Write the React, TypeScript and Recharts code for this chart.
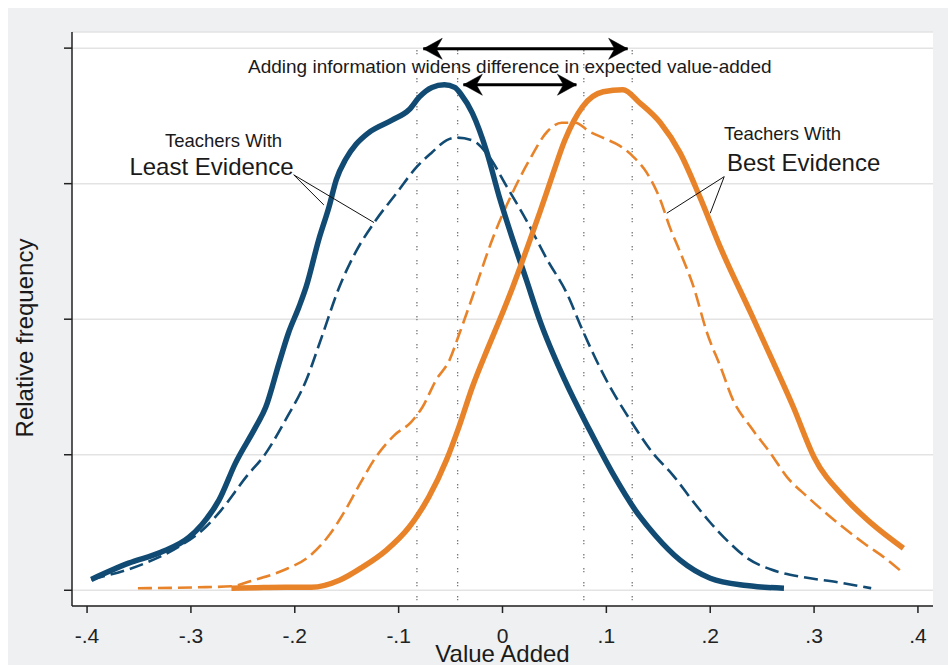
import React from "react";
import {
  LineChart,
  Line,
  XAxis,
  YAxis,
  CartesianGrid,
  ReferenceLine,
  ReferenceDot,
} from "recharts";

const FONT = '"Liberation Sans", Arial, Helvetica, sans-serif';
const BLUE = "#114b73";
const ORANGE = "#e8832a";
const INK = "#1a1a1a";

const xTicks = [-0.4, -0.3, -0.2, -0.1, 0, 0.1, 0.2, 0.3, 0.4];
const yTicks = [0, 1, 2, 3, 4];

// Teachers with least evidence: more information (solid)
const blueSolid: [number, number][] = [
  [-0.396, 0.08], [-0.36, 0.2], [-0.329, 0.28], [-0.302, 0.39], [-0.29, 0.48],
  [-0.273, 0.665], [-0.257, 0.94], [-0.238, 1.2], [-0.228, 1.35], [-0.215, 1.68],
  [-0.206, 1.9], [-0.196, 2.09], [-0.189, 2.24], [-0.177, 2.585], [-0.167, 2.83],
  [-0.16, 3.03], [-0.151, 3.18], [-0.141, 3.29], [-0.129, 3.375], [-0.106, 3.47],
  [-0.09, 3.545], [-0.08, 3.64], [-0.068, 3.71], [-0.056, 3.73], [-0.046, 3.71],
  [-0.04, 3.66], [-0.029, 3.52], [-0.015, 3.23], [-0.003, 2.9], [0.01, 2.585],
  [0.023, 2.29], [0.036, 1.99], [0.06, 1.55], [0.084, 1.18], [0.106, 0.864],
  [0.128, 0.59], [0.147, 0.406], [0.171, 0.222], [0.2, 0.089], [0.235, 0.035],
  [0.271, 0.015],
];

// Teachers with least evidence: less information (dashed)
const blueDashed: [number, number][] = [
  [-0.396, 0.08], [-0.344, 0.2], [-0.312, 0.32], [-0.286, 0.465], [-0.271, 0.59],
  [-0.247, 0.835], [-0.228, 1.01], [-0.209, 1.256], [-0.189, 1.55], [-0.174, 1.87],
  [-0.157, 2.24], [-0.141, 2.5], [-0.122, 2.73], [-0.102, 2.93], [-0.083, 3.12],
  [-0.068, 3.23], [-0.054, 3.32], [-0.044, 3.34], [-0.029, 3.32], [-0.013, 3.2],
  [0.004, 2.98], [0.023, 2.73], [0.043, 2.44], [0.062, 2.19], [0.077, 1.92],
  [0.1, 1.55], [0.123, 1.256], [0.145, 1.01], [0.164, 0.85], [0.184, 0.65],
  [0.2, 0.5], [0.219, 0.347], [0.236, 0.235], [0.258, 0.155], [0.29, 0.096],
  [0.323, 0.059], [0.355, 0.015],
];

// Teachers with best evidence: more information (solid)
const orangeSolid: [number, number][] = [
  [-0.261, 0.015], [-0.209, 0.022], [-0.184, 0.022], [-0.157, 0.074], [-0.135, 0.17],
  [-0.112, 0.295], [-0.09, 0.465], [-0.071, 0.687], [-0.054, 0.96], [-0.042, 1.204],
  [-0.029, 1.5], [-0.015, 1.77], [-0.003, 1.99], [0.01, 2.24], [0.023, 2.51],
  [0.036, 2.79], [0.048, 3.06], [0.06, 3.32], [0.077, 3.567], [0.097, 3.678],
  [0.116, 3.693], [0.132, 3.597], [0.152, 3.449], [0.171, 3.227], [0.19, 2.902],
  [0.21, 2.526], [0.239, 2.046], [0.261, 1.677], [0.28, 1.352], [0.3, 0.982],
  [0.329, 0.687], [0.355, 0.495], [0.386, 0.31],
];

// Teachers with best evidence: less information (dashed)
const orangeDashed: [number, number][] = [
  [-0.351, 0.015], [-0.293, 0.022], [-0.261, 0.03], [-0.24, 0.074], [-0.211, 0.148],
  [-0.186, 0.251], [-0.167, 0.406], [-0.153, 0.569], [-0.138, 0.775], [-0.122, 0.982],
  [-0.104, 1.145], [-0.088, 1.241], [-0.077, 1.352], [-0.064, 1.551], [-0.051, 1.699],
  [-0.042, 1.883], [-0.029, 2.164], [-0.01, 2.585], [0.01, 2.939], [0.026, 3.176],
  [0.043, 3.383], [0.057, 3.449], [0.07, 3.449], [0.084, 3.383], [0.099, 3.331],
  [0.113, 3.279], [0.126, 3.198], [0.139, 3.08], [0.152, 2.88], [0.161, 2.681],
  [0.171, 2.496], [0.184, 2.238], [0.197, 1.898], [0.21, 1.647], [0.222, 1.403],
  [0.239, 1.204], [0.258, 1.012], [0.274, 0.835], [0.294, 0.687], [0.323, 0.495],
  [0.348, 0.347], [0.371, 0.222], [0.386, 0.126],
];

// Means of the four distributions (dotted verticals)
const meanLines = [-0.0824, -0.0432, 0.0783, 0.1249];
const meanSpan = [-0.074, 4.047];

const wideArrow = { from: -0.0763, to: 0.1205, y: 3.995 };
const narrowArrow = { from: -0.0377, to: 0.0712, y: 3.73 };

const annotations = [
  { text: "Adding information widens difference in expected value-added", x: 0.007, y: 3.818, size: 19 },
  { text: "Teachers With", x: -0.2686, y: 3.274, size: 18.5 },
  { text: "Least Evidence", x: -0.2802, y: 3.065, size: 24 },
  { text: "Teachers With", x: 0.2696, y: 3.323, size: 18.5 },
  { text: "Best Evidence", x: 0.2899, y: 3.097, size: 24 },
];

const leaders = [
  { from: [-0.201, 3.065], to: [-0.172, 2.843] },
  { from: [-0.201, 3.065], to: [-0.1237, 2.713] },
  { from: [0.2135, 3.052], to: [0.1582, 2.782] },
  { from: [0.2135, 3.052], to: [0.2, 2.782] },
];

const rows = (pts: [number, number][]) => pts.map(([x, y]) => ({ x, y }));

const fmtX = (v: number) => {
  if (Math.abs(v) < 1e-9) return "0";
  const d = Math.round(Math.abs(v) * 10);
  return (v < 0 ? "-" : "") + "." + d;
};

const arrowHead = (dir: number) => (props: any) => {
  const { cx, cy } = props;
  const L = 19;
  const H = 10.5;
  const N = 13;
  const pts = `${cx},${cy} ${cx + dir * L},${cy - H} ${cx + dir * N},${cy} ${cx + dir * L},${cy + H}`;
  return <polygon points={pts} fill="#000" stroke="#000" strokeWidth={0.5} />;
};

const textShape = (text: string, size: number) => (props: any) => (
  <text
    x={props.cx}
    y={props.cy}
    textAnchor="middle"
    fontSize={size}
    fontFamily={FONT}
    fill={INK}
  >
    {text}
  </text>
);

const YLabel = (props: any) => {
  const vb = props.viewBox || { x: 14, y: 24, width: 50, height: 574 };
  const x = vb.x + 11;
  const y = vb.y + vb.height / 2 + 19;
  return (
    <text
      x={x}
      y={y}
      transform={`rotate(-90 ${x} ${y})`}
      textAnchor="middle"
      fontSize={24}
      fontFamily={FONT}
      fill={INK}
    >
      Relative frequency
    </text>
  );
};

export default function App() {
  return (
    <div
      style={{
        position: "fixed",
        left: 8,
        top: 8,
        width: 940,
        height: 657,
        overflow: "hidden",
        background: "#eef0f1",
      }}
    >
      <LineChart
        width={940}
        height={657}
        margin={{ top: 24, right: 15, bottom: 9, left: 14 }}
      >
        <CartesianGrid vertical={false} stroke="#e3e3e3" strokeWidth={1.5} fill="#ffffff" />
        <XAxis
          type="number"
          dataKey="x"
          domain={[-0.4145, 0.4145]}
          allowDataOverflow
          ticks={xTicks}
          tickFormatter={fmtX}
          tickSize={7}
          tickMargin={15}
          height={50}
          axisLine={{ stroke: "#222", strokeWidth: 1.5 }}
          tickLine={{ stroke: "#222", strokeWidth: 1.5 }}
          tick={{ fontSize: 21, fill: "#222", fontFamily: FONT }}
          label={{
            value: "Value Added",
            position: "insideBottom",
            offset: -6,
            fontSize: 24,
            fill: INK,
            fontFamily: FONT,
          }}
        />
        <YAxis
          type="number"
          domain={[-0.116, 4.119]}
          allowDataOverflow
          ticks={yTicks}
          tickFormatter={() => ""}
          tickSize={8}
          width={50}
          axisLine={{ stroke: "#222", strokeWidth: 1.5 }}
          tickLine={{ stroke: "#222", strokeWidth: 1.5 }}
          label={{ content: (p: any) => <YLabel {...p} /> }}
        />

        {meanLines.map((m, i) => (
          <ReferenceLine
            key={"m" + i}
            segment={[{ x: m, y: meanSpan[0] }, { x: m, y: meanSpan[1] }]}
            stroke="#777"
            strokeWidth={1.3}
            strokeDasharray="1.3 1.6 1.3 9.8"
            ifOverflow="visible"
          />
        ))}

        <Line
          data={rows(blueDashed)}
          dataKey="y"
          type="monotone"
          stroke={BLUE}
          strokeWidth={2.6}
          strokeDasharray="14 6"
          dot={false}
          activeDot={false}
          isAnimationActive={false}
        />
        <Line
          data={rows(orangeDashed)}
          dataKey="y"
          type="monotone"
          stroke={ORANGE}
          strokeWidth={2.6}
          strokeDasharray="14 6"
          dot={false}
          activeDot={false}
          isAnimationActive={false}
        />
        <Line
          data={rows(blueSolid)}
          dataKey="y"
          type="monotone"
          stroke={BLUE}
          strokeWidth={5.5}
          dot={false}
          activeDot={false}
          isAnimationActive={false}
        />
        <Line
          data={rows(orangeSolid)}
          dataKey="y"
          type="monotone"
          stroke={ORANGE}
          strokeWidth={5.5}
          dot={false}
          activeDot={false}
          isAnimationActive={false}
        />

        {leaders.map((l, i) => (
          <ReferenceLine
            key={"l" + i}
            segment={[{ x: l.from[0], y: l.from[1] }, { x: l.to[0], y: l.to[1] }]}
            stroke="#111"
            strokeWidth={1}
            ifOverflow="visible"
          />
        ))}

        {[wideArrow, narrowArrow].map((a, i) => (
          <ReferenceLine
            key={"a" + i}
            segment={[{ x: a.from, y: a.y }, { x: a.to, y: a.y }]}
            stroke="#000"
            strokeWidth={3}
            ifOverflow="visible"
          />
        ))}
        {[wideArrow, narrowArrow].map((a, i) => (
          <ReferenceDot
            key={"hl" + i}
            x={a.from}
            y={a.y}
            r={0}
            ifOverflow="visible"
            shape={arrowHead(1)}
          />
        ))}
        {[wideArrow, narrowArrow].map((a, i) => (
          <ReferenceDot
            key={"hr" + i}
            x={a.to}
            y={a.y}
            r={0}
            ifOverflow="visible"
            shape={arrowHead(-1)}
          />
        ))}

        {annotations.map((t, i) => (
          <ReferenceDot
            key={"t" + i}
            x={t.x}
            y={t.y}
            r={0}
            ifOverflow="visible"
            shape={textShape(t.text, t.size)}
          />
        ))}
      </LineChart>
    </div>
  );
}
